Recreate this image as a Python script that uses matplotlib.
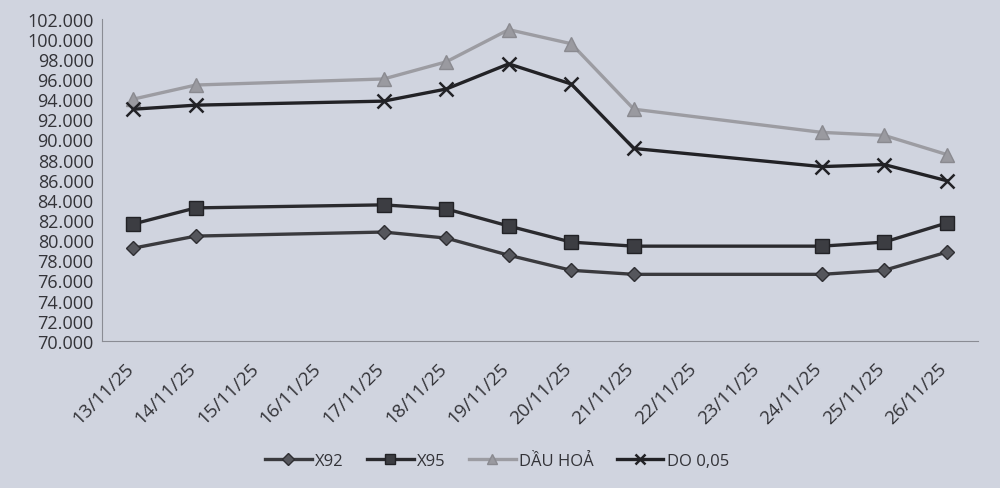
import matplotlib.pyplot as plt
from matplotlib.transforms import ScaledTranslation

# trục ngày (tất cả các ngày), dữ liệu chỉ có ở một số ngày
dates = ["13/11/25", "14/11/25", "15/11/25", "16/11/25", "17/11/25", "18/11/25", "19/11/25",
         "20/11/25", "21/11/25", "22/11/25", "23/11/25", "24/11/25", "25/11/25", "26/11/25"]
data_dates = ["13/11/25", "14/11/25", "17/11/25", "18/11/25", "19/11/25",
              "20/11/25", "21/11/25", "24/11/25", "25/11/25", "26/11/25"]

x92 = [79.2, 80.4, 80.8, 80.2, 78.5, 77.0, 76.6, 76.6, 77.0, 78.8]
x95 = [81.6, 83.2, 83.5, 83.1, 81.4, 79.8, 79.4, 79.4, 79.8, 81.7]
dau_hoa = [94.0, 95.4, 96.0, 97.7, 100.9, 99.5, 93.0, 90.7, 90.4, 88.5]
do005 = [93.0, 93.4, 93.8, 95.0, 97.5, 95.5, 89.1, 87.3, 87.5, 85.9]

bg = "#d0d4df"
plt.rcParams["font.family"] = ["Open Sans", "DejaVu Sans"]

fig = plt.figure(figsize=(10, 4.89), dpi=100, facecolor=bg)
ax = fig.add_axes([0.102, 0.301, 0.876, 0.659], facecolor=bg)

xs = [dates.index(d) for d in data_dates]

ax.plot(xs, x92, color="#3a3a3e", lw=2.4, marker="D", ms=7, mfc="#55565c", mec="#2e2e32", label="X92")
ax.plot(xs, x95, color="#2a2a2e", lw=2.4, marker="s", ms=10, mfc="#3c3d42", mec="#222226", label="X95")
ax.plot(xs, dau_hoa, color="#9c9ca2", lw=2.4, marker="^", ms=10, mfc="#9a9aa0", mec="#8a8a90", label="DẦU HOẢ")
ax.plot(xs, do005, color="#222226", lw=2.4, marker="x", ms=10, mew=1.8, mec="#222226", label="DO 0,05")

ax.set_xlim(-0.5, len(dates) - 0.5)
ax.set_ylim(70, 102)
ax.set_yticks(range(70, 103, 2))
ax.set_yticklabels([f"{v}.000" for v in range(70, 103, 2)], fontsize=13, color="#333338")
ax.set_xticks(range(len(dates)))
ax.set_xticklabels(dates, rotation=45, ha="right", rotation_mode="anchor", fontsize=13.5, color="#333338")
ax.tick_params(axis="y", length=0, pad=6)
ax.tick_params(axis="x", length=0, pad=13)
shift = ScaledTranslation(-9 / 100, 0, fig.dpi_scale_trans)
for lab in ax.get_xticklabels():
    lab.set_transform(lab.get_transform() + shift)

for s in ["top", "right"]:
    ax.spines[s].set_visible(False)
ax.spines["left"].set_color("#8a8c94")
ax.spines["bottom"].set_color("#8a8c94")

leg = fig.legend(loc="center", bbox_to_anchor=(0.497, 0.055), ncol=4, frameon=False,
                 fontsize=12, handlelength=2.8, columnspacing=1.4, handletextpad=0.2,
                 labelcolor="#333338")
for h in leg.legend_handles:
    h.set_markersize(6.5)

plt.savefig("out.png", dpi=100, facecolor=bg)
